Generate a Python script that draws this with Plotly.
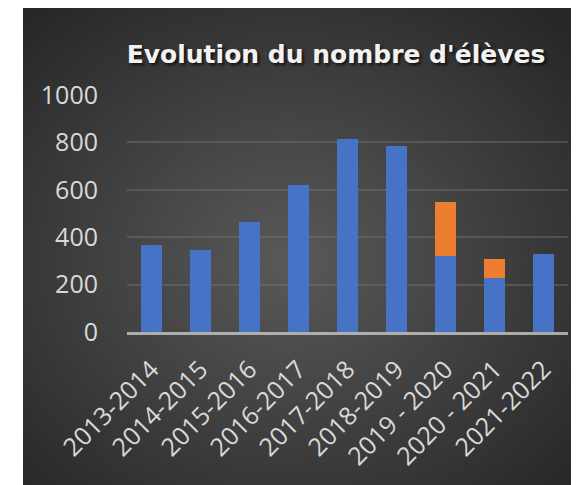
import base64
import struct
import zlib

import numpy as np
import plotly.graph_objects as go

# ---- data ----
categories = ["2013-2014", "2014-2015", "2015-2016", "2016-2017", "2017-2018",
              "2018-2019", "2019 - 2020", "2020 - 2021", "2021-2022"]
eleves = [368, 346, 465, 621, 815, 786, 322, 229, 330]
supplement = [None, None, None, None, None, None, 227, 79, None]
y_ticks = [0, 200, 400, 600, 800, 1000]
title_text = "Evolution du nombre d'élèves"

# ---- geometry (pixels, page coords; page body has an 8px margin) ----
OFF = 8
PAGE_W, PAGE_H = 579, 485
W, H = PAGE_W - OFF, PAGE_H - OFF
plot_left, plot_right = 127 - OFF, 568 - OFF
plot_top, plot_bottom = 95 - OFF, 332 - OFF
panel_left, panel_top = 23 - OFF, 0


def radial_png(w, h, cx, cy, c_in, c_out):
    ys, xs = np.mgrid[0:h, 0:w]
    dx = (xs / (w - 1) - cx) / 0.5
    dy = (ys / (h - 1) - cy) / 0.5
    d = np.clip(np.sqrt(dx ** 2 + dy ** 2) / np.sqrt(2), 0, 1)
    v = (c_in + (c_out - c_in) * d).astype(np.uint8)
    img = np.stack([v, v, v], axis=-1)
    raw = b"".join(b"\x00" + img[r].tobytes() for r in range(h))

    def chunk(tag, data):
        c = struct.pack(">I", len(data)) + tag + data
        return c + struct.pack(">I", zlib.crc32(tag + data) & 0xFFFFFFFF)

    png = b"\x89PNG\r\n\x1a\n"
    png += chunk(b"IHDR", struct.pack(">IIBBBBB", w, h, 8, 2, 0, 0, 0))
    png += chunk(b"IDAT", zlib.compress(raw, 9))
    png += chunk(b"IEND", b"")
    return "data:image/png;base64," + base64.b64encode(png).decode()


bg_src = radial_png(278, 240, 0.48, 0.53, 0x5a, 0x27)

pw = plot_right - plot_left
ph = plot_bottom - plot_top

fig = go.Figure()
fig.add_trace(go.Bar(x=categories, y=eleves, marker=dict(color="#4673C6", line=dict(width=0)),
                     name="Élèves"))
fig.add_trace(go.Bar(x=categories, y=supplement, marker=dict(color="#ED7D31", line=dict(width=0)),
                     name="Supplément"))

fig.update_layout(
    width=W, height=H,
    margin=dict(l=plot_left, r=W - plot_right, t=plot_top, b=H - plot_bottom, pad=0),
    paper_bgcolor="white",
    plot_bgcolor="rgba(0,0,0,0)",
    barmode="stack",
    bargap=0.57,
    showlegend=False,
    title=dict(
        text=title_text,
        x=(336 - OFF) / W, xref="container", xanchor="center",
        y=1 - (54 - OFF) / H, yref="container", yanchor="middle",
        font=dict(family="DejaVu Sans", size=25, color="#f2f2f2", weight="bold",
                  shadow="2px 2px 3px rgba(0,0,0,0.7)"),
    ),
    images=[dict(
        source=bg_src, xref="paper", yref="paper",
        x=(panel_left - plot_left) / pw, y=(plot_bottom - panel_top) / ph,
        sizex=(W - panel_left) / pw, sizey=(H - panel_top) / ph,
        xanchor="left", yanchor="top", sizing="stretch", layer="below",
    )],
    xaxis=dict(
        tickangle=-45,
        tickfont=dict(family="Open Sans", size=25, color="#d9d9d9"),
        showline=True, linecolor="rgba(200,200,200,0.8)", linewidth=2.5,
        showgrid=False, ticks="", ticklabelstandoff=10,
    ),
    yaxis=dict(
        range=[0, 1000],
        tickvals=y_ticks,
        tickfont=dict(family="Open Sans", size=25, color="#d9d9d9"),
        showgrid=True, gridcolor="rgba(115,115,115,0.45)", gridwidth=1.5,
        zeroline=False, ticks="", ticklabelstandoff=28,
    ),
)

fig.write_html("out.html")
